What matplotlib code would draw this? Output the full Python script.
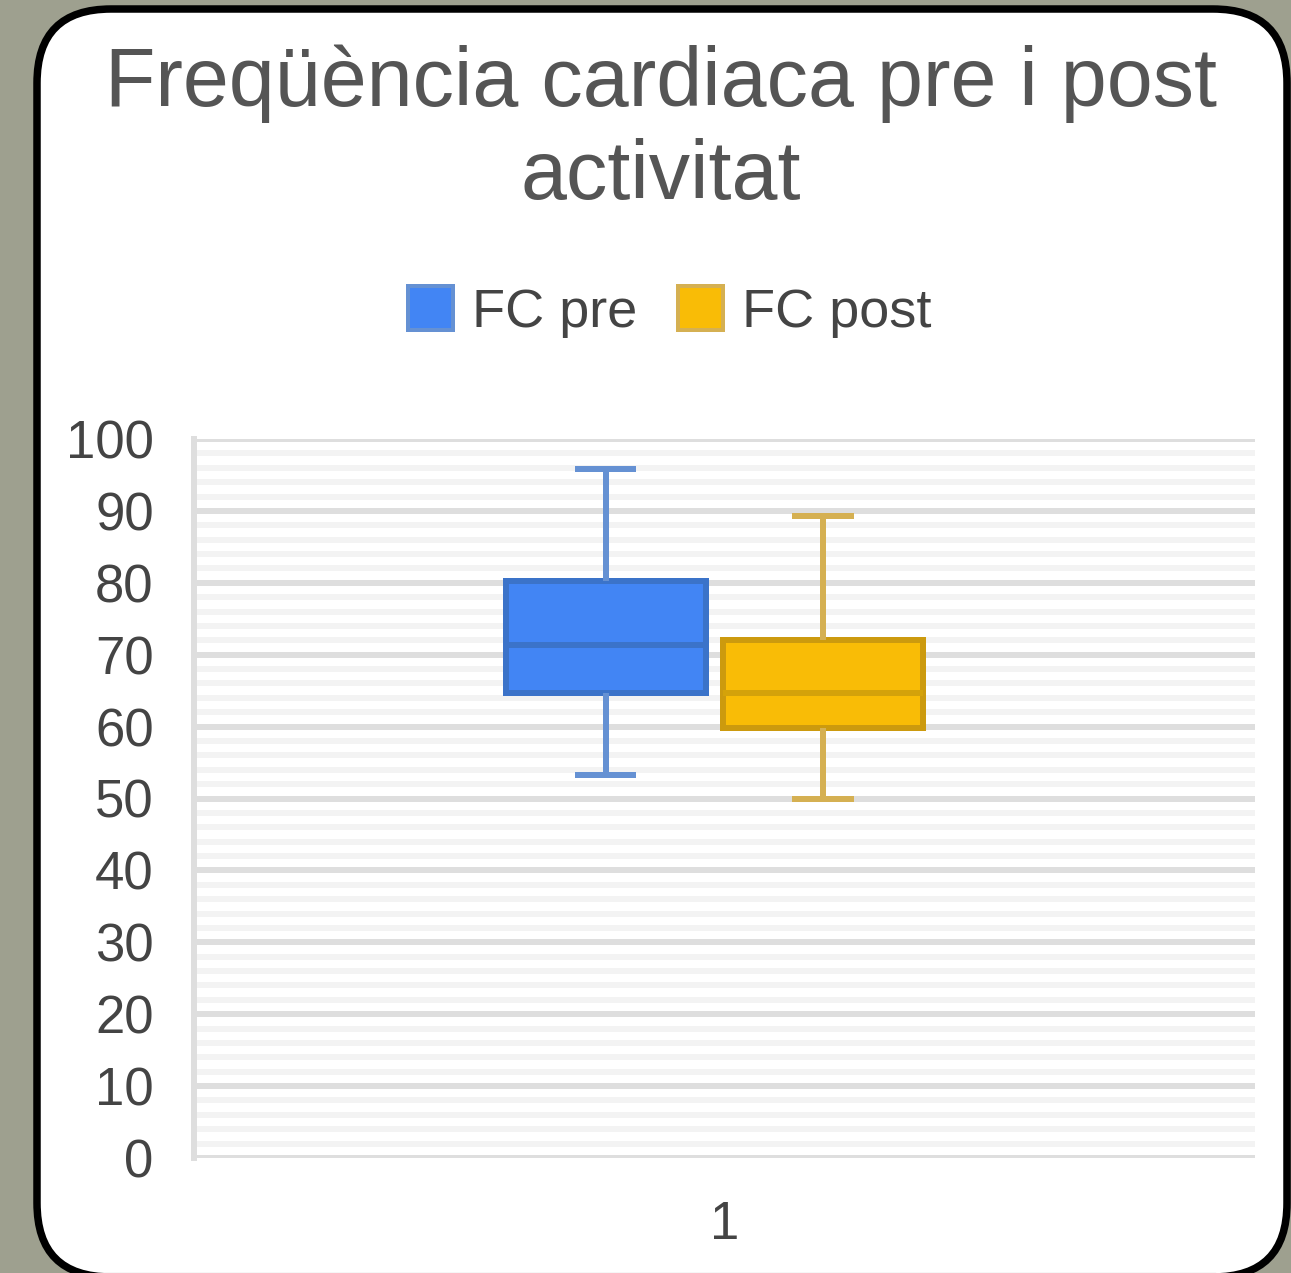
import matplotlib
matplotlib.use("Agg")
import matplotlib.pyplot as plt
from matplotlib.patches import FancyBboxPatch, Patch
from matplotlib.ticker import MultipleLocator

# ---- data ----
series = ["FC pre", "FC post"]
category = "1"
pre_stats = dict(whislo=53.3, q1=64.7, med=71.3, q3=80.2, whishi=95.8)
post_stats = dict(whislo=49.9, q1=59.8, med=64.7, q3=72.0, whishi=89.3)
yticks = [0, 10, 20, 30, 40, 50, 60, 70, 80, 90, 100]
title_lines = ["Freqüència cardiaca pre i post", "activitat"]

# ---- styles ----
W, H = 1291, 1273
DPI = 100
px = 72.0 / DPI
FONT = "Liberation Sans"
fills = ["#4285F4", "#F9BC06"]
edges = ["#3b73c9", "#cc9a0e"]
whisk = ["#6591d3", "#d5b052"]
meds = ["#3b73c9", "#d4a20a"]

fig = plt.figure(figsize=(W / DPI, H / DPI), dpi=DPI)
fig.patch.set_facecolor("#9ea08f")

# card background
bg = fig.add_axes([0, 0, 1, 1])
bg.set_xlim(0, W)
bg.set_ylim(H, 0)
bg.axis("off")
card = FancyBboxPatch((37, 9), 1287 - 37, 1277 - 9,
                      boxstyle="round,pad=0,rounding_size=74",
                      facecolor="white", edgecolor="black", linewidth=7.5 * px)
bg.add_patch(card)
bg.plot([100, 1215], [1272.5, 1272.5], color="#a8a8a8", linewidth=1.2 * px)

# main axes
left, right, top, bottom = 194, 1255, 439, 1158
ax = fig.add_axes([left / W, 1 - bottom / H, (right - left) / W, (bottom - top) / H])
ax.set_facecolor("none")
ax.set_xlim(0.5, 1.5)
ax.set_ylim(0, 100)

positions = [0.888, 1.093]
bw = 0.1885
for i, st in enumerate([pre_stats, post_stats]):
    s = dict(st)
    s["fliers"] = []
    ax.bxp([s], positions=[positions[i]], widths=bw, capwidths=0.058,
           patch_artist=True, showfliers=False,
           boxprops=dict(facecolor=fills[i], edgecolor=edges[i], linewidth=6 * px),
           whiskerprops=dict(color=whisk[i], linewidth=6 * px, solid_capstyle="butt"),
           capprops=dict(color=whisk[i], linewidth=6 * px, solid_capstyle="butt"),
           medianprops=dict(color=meds[i], linewidth=6 * px, solid_capstyle="butt"),
           zorder=3)

ax.set_yticks(yticks)
ax.yaxis.set_minor_locator(MultipleLocator(2))
ax.set_xticks([1.0])
ax.set_xticklabels([category])
ax.grid(which="minor", axis="y", color="#f3f3f3", linewidth=6 * px, zorder=0)
ax.grid(which="major", axis="y", color="#dedede", linewidth=6 * px, zorder=1)
ax.set_axisbelow(True)
for sp in ["top", "right", "bottom"]:
    ax.spines[sp].set_visible(False)
ax.spines["left"].set_color("#dedede")
ax.spines["left"].set_linewidth(6 * px)
ax.tick_params(axis="both", which="both", length=0)
ax.tick_params(axis="y", pad=29, labelsize=38, labelcolor="#444444")
ax.tick_params(axis="x", pad=30, labelsize=38, labelcolor="#444444")
for lab in ax.get_xticklabels() + ax.get_yticklabels():
    lab.set_fontfamily(FONT)

# title
fig.text(661 / W, 1 - 106 / H, title_lines[0], ha="center", va="baseline",
         fontsize=59.5, color="#555555", family=FONT)
fig.text(661 / W, 1 - 199 / H, title_lines[1], ha="center", va="baseline",
         fontsize=59.5, color="#555555", family=FONT)

# legend
handles = [Patch(facecolor=fills[i], edgecolor=whisk[i], linewidth=4 * px, label=series[i])
           for i in range(2)]
fig.legend(handles=handles, loc="center", bbox_to_anchor=(670 / W, 1 - 312 / H),
           ncol=2, frameon=False, borderpad=0, handlelength=0.83, handleheight=0.87,
           handletextpad=0.35, columnspacing=0.75,
           prop=dict(family=FONT, size=39), labelcolor="#444444")

fig.savefig("out.png", dpi=DPI, facecolor=fig.get_facecolor())
